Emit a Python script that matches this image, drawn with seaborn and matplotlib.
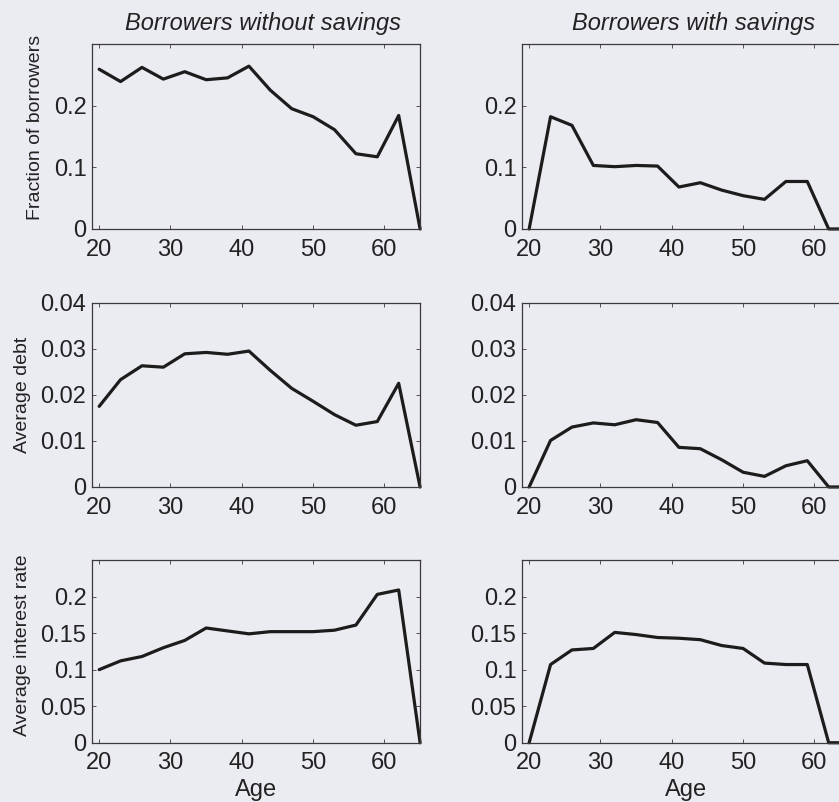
import matplotlib
matplotlib.use("Agg")
import matplotlib.pyplot as plt
import seaborn as sns
import pandas as pd

# Age grid (years)
ages = [20, 23, 26, 29, 32, 35, 38, 41, 44, 47, 50, 53, 56, 59, 62, 65]

# Borrowers without savings
frac_no_sav = [0.259, 0.239, 0.262, 0.243, 0.255, 0.242, 0.245, 0.264,
               0.225, 0.195, 0.182, 0.161, 0.122, 0.117, 0.184, 0.0]
debt_no_sav = [0.0175, 0.0233, 0.0263, 0.0260, 0.0289, 0.0292, 0.0288, 0.0295,
               0.0253, 0.0214, 0.0186, 0.0157, 0.0134, 0.0142, 0.0225, 0.0]
rate_no_sav = [0.100, 0.112, 0.118, 0.130, 0.140, 0.157, 0.153, 0.149,
               0.152, 0.152, 0.152, 0.154, 0.161, 0.203, 0.209, 0.0]

# Borrowers with savings
frac_sav = [0.0, 0.182, 0.168, 0.103, 0.101, 0.103, 0.102, 0.068,
            0.075, 0.063, 0.054, 0.048, 0.077, 0.077, 0.0, 0.0]
debt_sav = [0.0, 0.0101, 0.0130, 0.0139, 0.0135, 0.0146, 0.0140, 0.0086,
            0.0083, 0.0059, 0.0032, 0.0023, 0.0046, 0.0057, 0.0, 0.0]
rate_sav = [0.0, 0.107, 0.127, 0.129, 0.151, 0.148, 0.144, 0.143,
            0.141, 0.133, 0.129, 0.109, 0.107, 0.107, 0.0, 0.0]

col_titles = ["Borrowers without savings", "Borrowers with savings"]
row_labels = ["Fraction of borrowers", "Average debt", "Average interest rate"]
x_label = "Age"

x_ticks = [20, 30, 40, 50, 60]
y_ticks = [[0, 0.1, 0.2], [0, 0.01, 0.02, 0.03, 0.04], [0, 0.05, 0.1, 0.15, 0.2]]
y_ticklabels = [["0", "0.1", "0.2"],
                ["0", "0.01", "0.02", "0.03", "0.04"],
                ["0", "0.05", "0.1", "0.15", "0.2"]]
y_limits = [0.3, 0.04, 0.25]

series = [[frac_no_sav, frac_sav], [debt_no_sav, debt_sav], [rate_no_sav, rate_sav]]

bg = "#ebebf2"
ink = "#222222"

sns.set_theme(style="ticks")
plt.rcParams["font.family"] = ["Liberation Sans", "DejaVu Sans"]
plt.rcParams.update({
    "figure.facecolor": bg,
    "axes.facecolor": bg,
    "axes.edgecolor": "#3a3a3a",
    "axes.linewidth": 0.9,
    "text.color": ink,
    "axes.labelcolor": ink,
    "xtick.color": "#3a3a3a",
    "ytick.color": "#3a3a3a",
    "xtick.labelcolor": ink,
    "ytick.labelcolor": ink,
})

fig = plt.figure(figsize=(8.39, 8.02), dpi=100)

# axes placement in figure fractions: [left, bottom, width, height]
col_left = [0.1097, 0.6222]
col_width = 0.391
row_bottom = [0.7145, 0.3928, 0.0739]
row_height = [0.2307, 0.2298, 0.2278]
# vertical centre of each row's y label, in axes fraction
label_y = [0.55, 0.5, 0.535]

for r in range(3):
    for c in range(2):
        ax = fig.add_axes([col_left[c], row_bottom[r], col_width, row_height[r]])
        ax.set_facecolor(bg)
        df = pd.DataFrame({"age": ages, "value": series[r][c]})
        sns.lineplot(data=df, x="age", y="value", ax=ax, color="#1c1c1c",
                     linewidth=2.3, clip_on=False)
        ax.set_xlim(19, 65)
        ax.set_ylim(0, y_limits[r])
        ax.set_xticks(x_ticks)
        ax.set_xticklabels([str(t) for t in x_ticks])
        ax.set_yticks(y_ticks[r])
        ax.set_yticklabels(y_ticklabels[r])
        ax.tick_params(axis="both", direction="in", length=3, width=0.6,
                       top=True, right=True, labelsize=17)
        ax.tick_params(axis="x", pad=7)
        ax.tick_params(axis="y", pad=4)
        for s in ax.spines.values():
            s.set_visible(True)
        ax.set_xlabel(x_label if r == 2 else "", fontsize=17, labelpad=3)
        ax.set_ylabel(row_labels[r] if c == 0 else "", fontsize=14, labelpad=7)
        ax.yaxis.label.set_y(label_y[r])
        if r == 0:
            ax.set_title(col_titles[c], fontsize=17, style="italic", pad=10, x=0.522)

fig.savefig("out.png", dpi=100, facecolor=bg)
